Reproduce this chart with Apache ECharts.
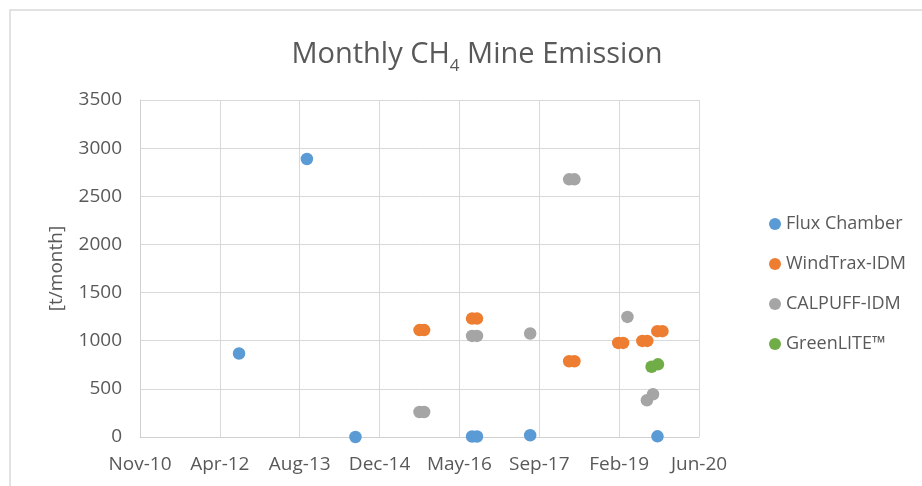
<!DOCTYPE html>
<html>
<head>
<meta charset="utf-8">
<script src="https://cdn.jsdelivr.net/npm/echarts@6/dist/echarts.min.js"></script>
<style>
  html, body { margin: 0; padding: 0; background: #fff; }
  #chart { width: 922px; height: 486px; }
</style>
</head>
<body>
<div id="chart"></div>
<script>
// series data (dates as YYYY-MM-DD, values in t/month)
var fluxDates = ['2012-07-30', '2013-09-28', '2014-07-29', '2016-07-28', '2016-08-28', '2017-07-27', '2019-10-02'];
var fluxValues = [867, 2887, 0, 5, 5, 18, 7];

var windDates = ['2015-09-03', '2015-10-02', '2016-07-28', '2016-08-28', '2018-03-28', '2018-04-30',
  '2019-01-29', '2019-03-01', '2019-06-29', '2019-07-30', '2019-10-01', '2019-11-02'];
var windValues = [1110, 1110, 1230, 1230, 787, 787, 977, 977, 998, 998, 1099, 1099];

var calpuffDates = ['2015-09-03', '2015-10-02', '2016-07-28', '2016-08-28', '2017-07-27',
  '2018-03-28', '2018-04-30', '2019-03-28', '2019-07-28', '2019-09-04'];
var calpuffValues = [260, 260, 1050, 1050, 1075, 2676, 2676, 1247, 382, 444];

var greenDates = ['2019-08-26', '2019-10-05'];
var greenValues = [730, 755];

var seriesNames = ['Flux Chamber', 'WindTrax-IDM', 'CALPUFF-IDM', 'GreenLITE™'];
var seriesColors = ['#5B9BD5', '#ED7D31', '#A5A5A5', '#70AD47'];
var monthNames = ['Jan', 'Feb', 'Mar', 'Apr', 'May', 'Jun', 'Jul', 'Aug', 'Sep', 'Oct', 'Nov', 'Dec'];

// x axis works in spreadsheet day numbers (days since 1899-12-30), like the original
var EPOCH = Date.UTC(1899, 11, 30);
function toSerial(d) {
  return Math.round((Date.parse(d) - EPOCH) / 86400000);
}
function serialLabel(v) {
  var dt = new Date(EPOCH + v * 86400000);
  var yy = String(dt.getUTCFullYear() % 100);
  if (yy.length < 2) yy = '0' + yy;
  return monthNames[dt.getUTCMonth()] + '-' + yy;
}
function pairs(dates, values) {
  var out = [];
  for (var i = 0; i < dates.length; i++) {
    out.push([toSerial(dates[i]), values[i]]);
  }
  return out;
}

var font = '"Open Sans", "Noto Sans", sans-serif';
var textColor = '#595959';
var chart = echarts.init(document.getElementById('chart'));

var allData = [
  pairs(fluxDates, fluxValues),
  pairs(windDates, windValues),
  pairs(calpuffDates, calpuffValues),
  pairs(greenDates, greenValues)
];

var option = {
  backgroundColor: '#fff',
  animation: false,
  color: seriesColors,
  title: {
    text: '{a|Monthly CH}{b|4}{a| Mine Emission}',
    left: 472,
    top: 30,
    textAlign: 'center',
    textStyle: {
      fontWeight: 'normal',
      rich: {
        a: { fontFamily: font, fontSize: 29, fontWeight: 'normal', color: textColor, lineHeight: 40 },
        b: { fontFamily: font, fontSize: 17, fontWeight: 'normal', color: textColor, lineHeight: 17, verticalAlign: 'bottom' }
      }
    }
  },
  legend: {
    orient: 'vertical',
    left: 764,
    top: 210,
    icon: 'circle',
    itemWidth: 12,
    itemHeight: 12,
    itemGap: 22,
    data: seriesNames,
    textStyle: { fontFamily: font, fontSize: 18, color: textColor }
  },
  grid: {
    left: 140,
    top: 100,
    width: 559,
    height: 337
  },
  xAxis: {
    type: 'value',
    min: 40500,
    max: 44000,
    interval: 500,
    axisLine: { lineStyle: { color: '#d0d0d0', width: 1 } },
    axisTick: { show: false },
    axisLabel: {
      margin: 18,
      fontFamily: font,
      fontSize: 19,
      color: textColor,
      formatter: serialLabel
    },
    splitLine: { show: true, lineStyle: { color: '#d9d9d9', width: 1 } }
  },
  yAxis: {
    type: 'value',
    min: 0,
    max: 3500,
    interval: 500,
    name: '[t/month]',
    nameLocation: 'middle',
    nameGap: 74,
    nameTextStyle: { fontFamily: font, fontSize: 19, color: textColor },
    axisLine: { show: true, lineStyle: { color: '#d0d0d0', width: 1 } },
    axisTick: { show: false },
    axisLabel: {
      margin: 18,
      fontFamily: font,
      fontSize: 19,
      color: textColor,
      formatter: function (v) { return String(v); }
    },
    splitLine: { lineStyle: { color: '#d9d9d9', width: 1 } }
  },
  graphic: [{
    type: 'rect',
    shape: { x: 10, y: 10, width: 940, height: 500 },
    style: { fill: 'none', stroke: '#d9d9d9', lineWidth: 1.5 },
    silent: true,
    z: -10
  }],
  series: seriesNames.map(function (name, i) {
    return {
      name: name,
      type: 'scatter',
      symbol: 'circle',
      symbolSize: 12.5,
      itemStyle: { color: seriesColors[i], opacity: 1 },
      data: allData[i]
    };
  })
};

chart.setOption(option);
</script>
</body>
</html>
